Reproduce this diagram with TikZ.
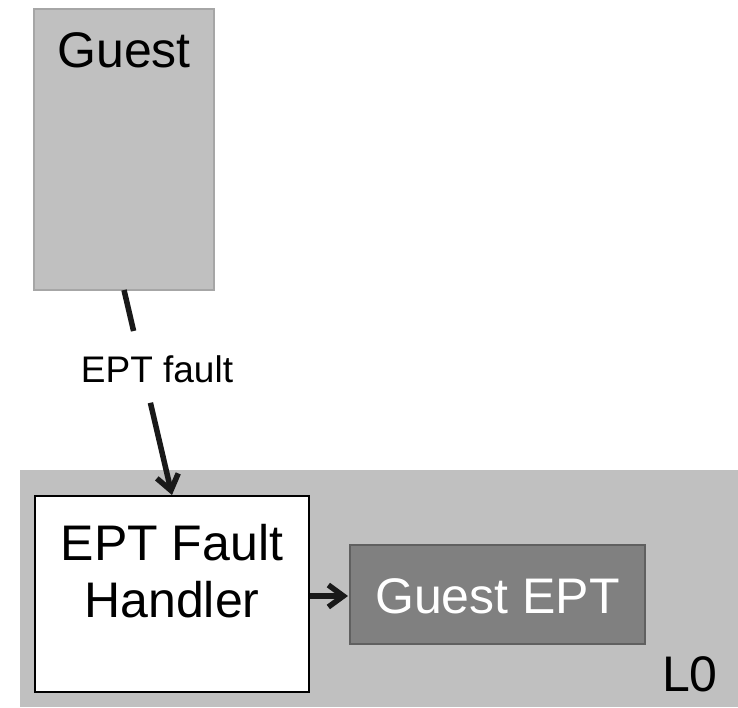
\documentclass[tikz,border=0pt]{standalone}
\usepackage{fontspec}
\setmainfont{Liberation Sans}
\usetikzlibrary{arrows.meta,calc}
\begin{document}
\begin{tikzpicture}[x=1pt,y=-1pt,
  lightbox/.style={fill=boxgray,draw=edgegray,line width=1.5pt},
  whitebox/.style={fill=white,draw=black,line width=2pt},
  darkbox/.style={fill=darkgray2,draw=darkedge,line width=1.5pt},
  wire/.style={line width=5.5pt,draw=black!90},
  flow/.style={wire,-{Straight Barb[length=15pt,width=22pt,line width=5.5pt]}},
  bigtxt/.style={font=\fontsize{50}{57}\selectfont},
  smalltxt/.style={font=\fontsize{37}{42}\selectfont}]
\definecolor{boxgray}{HTML}{C0C0C0}
\definecolor{edgegray}{HTML}{A6A6A6}
\definecolor{darkgray2}{HTML}{808080}
\definecolor{darkedge}{HTML}{606060}
\useasboundingbox (0,0) rectangle (738,707);
% host layer
\fill[boxgray] (20,470) rectangle (738,707);
\node[anchor=base east,bigtxt,inner sep=0pt] (l0) at (718,691) {L0};
% guest
\draw[lightbox] (34,9) rectangle (214,290);
\coordinate (guestbot) at (124,290);
\node[anchor=base,bigtxt,inner sep=0pt] (guest) at (124,67) {Guest};
% handler
\draw[whitebox] (35,496) rectangle (309,692);
\coordinate (handtop) at (172,495);
\node[align=center,bigtxt,inner sep=0pt,anchor=base] (hand) at (172,617) {EPT Fault\\Handler};
% guest EPT
\draw[darkbox] (350,545) rectangle (645,644);
\node[anchor=base,bigtxt,text=white,inner sep=0pt] (gept) at (497.5,613) {Guest EPT};
\coordinate (handright) at (310,596);
\coordinate (geptleft) at (348,596);
% connectors
\node[smalltxt,fill=white,inner sep=0pt,anchor=base] (lbl) at (157,382) {EPT fault};
\draw[wire] (guestbot) -- ($(guestbot)!0.2!(handtop)$);
\draw[flow] ($(guestbot)!0.55!(handtop)$) -- (handtop);
\draw[flow] (handright) -- (geptleft);
\end{tikzpicture}
\end{document}
